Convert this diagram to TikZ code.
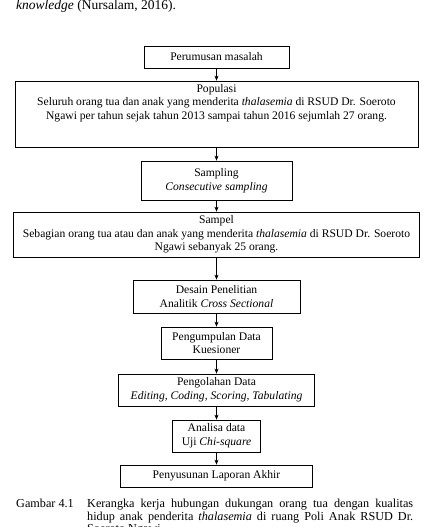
\documentclass[tikz,border=0pt]{standalone}
\usepackage{fontspec}
\setmainfont{Liberation Serif}
\usetikzlibrary{arrows.meta}
\begin{document}
\begin{tikzpicture}[x=1pt,y=-1pt,
  box/.style={draw, line width=0.7pt, rectangle, inner sep=0pt, align=center,
    font=\fontsize{11.6}{13.6}\selectfont},
  txt/.style={inner sep=0pt, align=center, font=\fontsize{11.6}{13.6}\selectfont},
  arr/.style={line width=0.7pt, -{Stealth[length=5pt,width=4pt]}}]
\useasboundingbox (0,0) rectangle (423,527);
\clip (0,0) rectangle (423,527);
% top text
\node[anchor=west, inner sep=0pt, font=\fontsize{13.5}{15}\selectfont] (top) at (16,6) {\textit{knowledge} (Nursalam, 2016).};
% boxes
\node[box, minimum width=145, minimum height=22] (b1) at (216.5,57) {Perumusan masalah};
\node[box, minimum width=403, minimum height=66] (b2) at (216.5,114) {};
\node[txt, anchor=north] (t2) at (216.5,84) {Populasi\\Seluruh orang tua dan anak yang menderita \textit{thalasemia} di RSUD Dr. Soeroto\\Ngawi per tahun sejak tahun 2013 sampai tahun 2016 sejumlah 27 orang.};
\node[box, minimum width=151, minimum height=39] (b3) at (216.5,180.5) {Sampling\\\textit{Consecutive sampling}};
\node[box, minimum width=406, minimum height=45] (b4) at (216.5,234.5) {Sampel\\Sebagian orang tua atau dan anak yang menderita \textit{thalasemia} di RSUD Dr. Soeroto\\Ngawi sebanyak 25 orang.};
\node[box, minimum width=167, minimum height=33] (b5) at (216.5,296.5) {Desain Penelitian\\Analitik \textit{Cross Sectional}};
\node[box, minimum width=111, minimum height=32] (b6) at (216.5,343) {Pengumpulan Data\\Kuesioner};
\node[box, minimum width=196, minimum height=32] (b7) at (216.5,390) {Pengolahan Data\\\textit{Editing, Coding, Scoring, Tabulating}};
\node[box, minimum width=88, minimum height=32] (b8) at (216.5,436) {Analisa data\\Uji \textit{Chi-square}};
\node[box, minimum width=192, minimum height=22] (b9) at (216.5,476) {Penyusunan Laporan Akhir};
% arrows
\draw[arr] (b1.south) -- (b2.north);
\draw[arr] (b2.south) -- (b3.north);
\draw[arr] (b3.south) -- (b4.north);
\draw[arr] (b4.south) -- (b5.north);
\draw[arr] (b5.south) -- (b6.north);
\draw[arr] (b6.south) -- (b7.north);
\draw[arr] (b7.south) -- (b8.north);
\draw[arr] (b8.south) -- (b9.north);
% caption
\node[anchor=north west, inner sep=0pt, font=\fontsize{12.2}{12.6}\selectfont] (cl) at (16,499) {Gambar 4.1};
\node[anchor=north west, inner sep=0pt, text width=326pt, align=justify, font=\fontsize{12.2}{12.6}\selectfont] (ct) at (87,499) {Kerangka kerja hubungan dukungan orang tua dengan kualitas\linebreak hidup anak penderita \textit{thalasemia} di ruang Poli Anak RSUD Dr.\linebreak Soeroto Ngawi.};
\end{tikzpicture}
\end{document}
